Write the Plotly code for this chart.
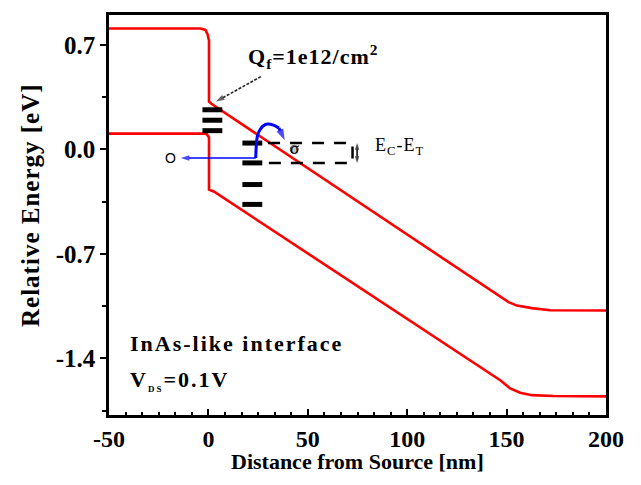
import plotly.graph_objects as go

# Band edges along the channel: distance (nm) vs relative energy (eV)
ec_x = [-50, -4, -1.5, -0.4, 0.3, 0.3, 1.5, 146.8, 151.0, 155.2, 162.7, 171.9, 200]
ec_y = [0.81, 0.81, 0.80, 0.77, 0.73, 0.32, 0.305, -0.99, -1.024, -1.047, -1.064, -1.078, -1.08]
ev_x = [-50, -1.0, 0.3, 0.3, 2.9, 146.8, 151.8, 156.8, 162.7, 173.4, 200]
ev_y = [0.105, 0.105, 0.08, -0.27, -0.284, -1.547, -1.602, -1.631, -1.647, -1.653, -1.655]

# Trap levels: interface traps and bulk traps (eV)
interface_traps = [0.265, 0.195, 0.125]
interface_span = [-3, 7]
bulk_traps = [0.042, -0.091, -0.236, -0.369]
bulk_span = [17.1, 27.1]

# Ec-Et window
window_top, window_bot = 0.042, -0.091
window_x = [30, 72.5]
window_arrow_x = 74.8

# Emission path of a trapped electron, ending in an arrowhead
emit_x = [23.8, 24.6, 25.5, 27.2, 29.7, 33.0, 35.5]
emit_y = [-0.058, 0.087, 0.12, 0.153, 0.169, 0.16, 0.142]
emit_tip = (38.4, 0.06)

# Escape toward the source
escape_x = [23.8, -13.9]
escape_y = [-0.058, -0.058]

# Pointer from the fixed-charge label to the interface
qf_x = [26.4, 3.8]
qf_y = [0.487, 0.32]

x_ticks = [-50, 0, 50, 100, 150, 200]
x_tick_text = ["-50", "0", "50", "100", "150", "200"]
y_ticks = [-1.4, -0.7, 0.0, 0.7]
y_tick_text = ["-1.4", "-0.7", "0.0", "0.7"]

SERIF = "Liberation Serif, Times New Roman, serif"


def spaced(s, px):
    return f"<span style='letter-spacing:{px}px'>{s}</span>"


def bars(levels, span):
    xs, ys = [], []
    for lv in levels:
        xs += [span[0], span[1], None]
        ys += [lv, lv, None]
    return xs, ys


def arrow_trace(xs, ys, color, width, head, dash="solid"):
    # line whose last point carries an arrowhead aligned with the segment
    n = len(xs)
    return go.Scatter(
        x=xs, y=ys, mode="lines+markers",
        line=dict(color=color, width=width, dash=dash),
        marker=dict(symbol=["circle"] * (n - 1) + ["arrow"],
                    size=[0] * (n - 1) + [head], color=color,
                    angleref="previous", line=dict(width=0)),
        hoverinfo="skip")


fig = go.Figure()

fig.add_trace(go.Scatter(x=ec_x, y=ec_y, mode="lines",
                         line=dict(color="#ff0000", width=2.6), hoverinfo="skip"))
fig.add_trace(go.Scatter(x=ev_x, y=ev_y, mode="lines",
                         line=dict(color="#ff0000", width=2.6), hoverinfo="skip"))

for lv, sp in ((interface_traps, interface_span), (bulk_traps, bulk_span)):
    bx, by = bars(lv, sp)
    fig.add_trace(go.Scatter(x=bx, y=by, mode="lines",
                             line=dict(color="black", width=5), hoverinfo="skip"))

# dashed energy window
wx = [window_x[0], window_x[1], window_x[1], window_x[0]]
wy = [window_top, window_top, window_bot, window_bot]
fig.add_trace(go.Scatter(x=wx, y=wy, mode="lines",
                         line=dict(color="black", width=2.5, dash="12px,10px"),
                         hoverinfo="skip"))

# Ec-Et double arrow
mid = (window_top + window_bot) / 2
fig.add_trace(arrow_trace([window_arrow_x, window_arrow_x], [mid, window_top], "black", 1.5, 7))
fig.add_trace(arrow_trace([window_arrow_x, window_arrow_x], [mid, window_bot], "black", 1.5, 7))

# blue emission path with its arrowhead
fig.add_trace(go.Scatter(x=emit_x, y=emit_y, mode="lines",
                         line=dict(color="#0000ff", width=3, shape="spline"),
                         hoverinfo="skip"))
fig.add_trace(arrow_trace([emit_x[-1], emit_tip[0]], [emit_y[-1], emit_tip[1]],
                          "#0000ff", 3, 12))

# escape arrow and fixed-charge pointer
fig.add_trace(arrow_trace(escape_x, escape_y, "#0000ff", 1.5, 9))
fig.add_trace(arrow_trace(qf_x, qf_y, "#222222", 1.6, 9, dash="3px,1.5px"))

# capture cross-section symbol
fig.add_trace(go.Scatter(x=[43.2], y=[0.0], mode="markers",
                         marker=dict(color="#c8c8c8", size=8,
                                     line=dict(color="#444", width=1)),
                         hoverinfo="skip"))

ann = []
ann.append(dict(x=18.8, y=0.62, xref="x", yref="y", xanchor="left", yanchor="middle",
                text=spaced("Q<sub>f</sub>=1e12/cm<sup>2</sup>", 1), showarrow=False,
                font=dict(family=SERIF, size=22, color="black", weight="bold")))
ann.append(dict(x=83.0, y=0.02, xref="x", yref="y", xanchor="left", yanchor="middle",
                text=spaced("E<sub>C</sub>-E<sub>T</sub>", 1), showarrow=False,
                font=dict(family=SERIF, size=18, color="black")))
ann.append(dict(x=43.2, y=0.005, xref="x", yref="y", xanchor="center", yanchor="middle",
                text="σ", showarrow=False,
                font=dict(family=SERIF, size=17, color="black")))
ann.append(dict(x=-18.9, y=-0.058, xref="x", yref="y", xanchor="center", yanchor="middle",
                text="O", showarrow=False,
                font=dict(family="Liberation Sans, Arial, sans-serif", size=14, color="black")))
ann.append(dict(x=-40.2, y=-1.30, xref="x", yref="y", xanchor="left", yanchor="middle",
                text=spaced("InAs-like interface", 2), showarrow=False,
                font=dict(family=SERIF, size=22, color="black", weight="bold")))
ann.append(dict(x=-40.2, y=-1.55, xref="x", yref="y", xanchor="left", yanchor="middle",
                text=spaced("V<sub><span style='font-size:9px'>DS</span></sub>=0.1V", 2),
                showarrow=False,
                font=dict(family=SERIF, size=22, color="black", weight="bold")))
# axis titles
ann.append(dict(x=0.501, y=-0.115, xref="paper", yref="paper",
                xanchor="center", yanchor="middle", showarrow=False,
                text="Distance from Source [nm]",
                font=dict(family=SERIF, size=22, color="black", weight="bold")))
ann.append(dict(x=-0.159, y=0.525, xref="paper", yref="paper", textangle=-90,
                xanchor="center", yanchor="middle", showarrow=False,
                text=spaced("Relative Energy [eV]", 1),
                font=dict(family=SERIF, size=25, color="black", weight="bold")))

fig.update_layout(
    width=641, height=485,
    margin=dict(l=109, r=35, t=13, b=70),
    paper_bgcolor="white", plot_bgcolor="white",
    showlegend=False,
    annotations=ann,
)

fig.update_xaxes(
    range=[-50, 200], showgrid=False, zeroline=False,
    showline=True, linecolor="black", linewidth=2.5, mirror=True,
    tickmode="array", tickvals=x_ticks, ticktext=x_tick_text,
    ticks="inside", ticklen=6, tickwidth=2, tickcolor="black",
    minor=dict(ticks="inside", ticklen=3, tickwidth=2, tickcolor="black",
               tickmode="linear", tick0=-50, dtick=50 / 6),
    tickfont=dict(family=SERIF, size=24, color="black", weight="bold"),
)
fig.update_yaxes(
    range=[-1.78, 0.9], showgrid=False, zeroline=False,
    showline=True, linecolor="black", linewidth=2.5, mirror=True,
    tickmode="array", tickvals=y_ticks, ticktext=y_tick_text,
    ticks="outside", ticklen=6, tickwidth=2, tickcolor="black",
    minor=dict(ticks="outside", ticklen=4, tickwidth=2, tickcolor="black",
               tickmode="linear", tick0=0, dtick=0.35),
    tickfont=dict(family=SERIF, size=25, color="black", weight="bold"),
)

fig.write_html("out.html")
